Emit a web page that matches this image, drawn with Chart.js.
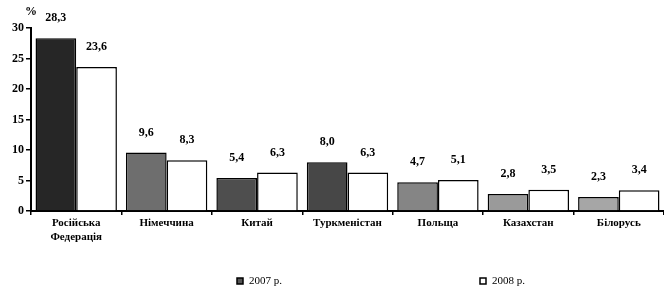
<!DOCTYPE html>
<html>
<head>
<meta charset="utf-8">
<script src="https://cdn.jsdelivr.net/npm/chart.js@4"></script>
<style>
  html, body { margin: 0; padding: 0; background: #fff; }
  #wrap { position: relative; width: 664px; height: 292px; }
</style>
</head>
<body>
<div id="wrap"><canvas id="mainChart" width="664" height="292"></canvas></div>
<script>
  var countries = [['Російська', 'Федерація'], 'Німеччина', 'Китай', 'Туркменістан', 'Польща', 'Казахстан', 'Білорусь'];
  var share2007 = [28.3, 9.6, 5.4, 8.0, 4.7, 2.8, 2.3];
  var share2008 = [23.6, 8.3, 6.3, 6.3, 5.1, 3.5, 3.4];
  var yTicks = [0, 5, 10, 15, 20, 25, 30];
  var seriesNames = ['2007 р.', '2008 р.'];

  // scanned halftone look: each 2007 bar has its own shade
  var shades2007 = ['#262626', '#6e6e6e', '#4e4e4e', '#474747', '#858585', '#9a9a9a', '#a6a6a6'];
  var serif = '"Liberation Serif", "DejaVu Serif", serif';

  function fmt(v) { return v.toFixed(1).replace('.', ','); }

  var extras = {
    id: 'extras',
    afterDatasetsDraw: function (chart) {
      var ctx = chart.ctx;
      ctx.save();
      ctx.fillStyle = '#000';
      ctx.font = 'bold 12px ' + serif;
      ctx.textAlign = 'center';
      ctx.textBaseline = 'middle';
      chart.data.datasets.forEach(function (ds, di) {
        chart.getDatasetMeta(di).data.forEach(function (bar, i) {
          ctx.fillText(fmt(ds.data[i]), bar.x, bar.y - 20);
        });
      });
      // percent sign over the y axis
      ctx.fillText('%', chart.chartArea.left, 12);

      // legend
      ctx.font = '11px ' + serif;
      ctx.textAlign = 'left';
      var items = [{ x: 237, fill: '#555' }, { x: 480, fill: '#fff' }];
      items.forEach(function (it, k) {
        ctx.fillStyle = it.fill;
        ctx.strokeStyle = '#000';
        ctx.lineWidth = 1.5;
        ctx.fillRect(it.x, 278, 6, 6);
        ctx.strokeRect(it.x, 278, 6, 6);
        ctx.fillStyle = '#000';
        ctx.fillText(seriesNames[k], it.x + 12, 281.5);
      });
      ctx.restore();
    }
  };

  new Chart(document.getElementById('mainChart').getContext('2d'), {
    type: 'bar',
    data: {
      labels: countries,
      datasets: [{
        label: seriesNames[0],
        data: share2007,
        backgroundColor: shades2007,
        borderColor: '#000',
        borderWidth: 1.5,
        borderSkipped: 'bottom'
      }, {
        label: seriesNames[1],
        data: share2008,
        backgroundColor: '#fff',
        borderColor: '#000',
        borderWidth: 1.5,
        borderSkipped: 'bottom'
      }]
    },
    options: {
      responsive: false,
      animation: false,
      layout: { padding: { top: 28, right: 0, bottom: 0, left: 0 } },
      datasets: { bar: { categoryPercentage: 0.9, barPercentage: 1.0 } },
      plugins: { legend: { display: false }, tooltip: { enabled: false } },
      scales: {
        x: {
          afterFit: function (s) { s.height = 81; },
          grid: { offset: true, drawOnChartArea: false, color: '#000', tickLength: 4, lineWidth: 1.5 },
          border: { color: '#000', width: 2 },
          ticks: { color: '#000', font: { family: serif, size: 11, weight: 'bold' }, maxRotation: 0, autoSkip: false, padding: 2 }
        },
        y: {
          min: 0,
          max: 30,
          afterFit: function (s) { s.width = 31; },
          afterBuildTicks: function (s) { s.ticks = yTicks.map(function (v) { return { value: v }; }); },
          grid: { drawOnChartArea: false, color: '#000', tickLength: 5, lineWidth: 1.5 },
          border: { color: '#000', width: 2 },
          ticks: { color: '#000', font: { family: serif, size: 12, weight: 'bold' }, padding: 2 }
        }
      }
    },
    plugins: [extras]
  });
</script>
</body>
</html>
